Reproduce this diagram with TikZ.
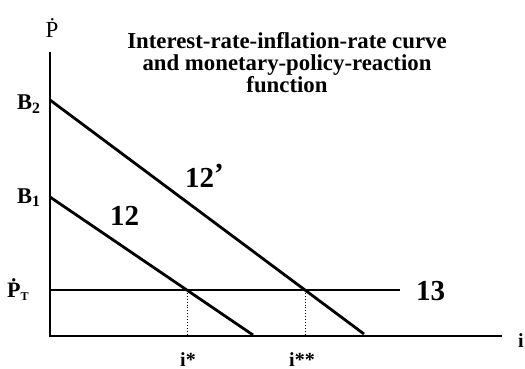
\documentclass[tikz,border=0pt]{standalone}
\usepackage{fontspec}
\setmainfont{Liberation Serif}
\begin{document}
\begin{tikzpicture}[x=1pt,y=-1pt,
  axis/.style={line width=2.4pt},
  curve/.style={line width=2.8pt},
  lbl/.style={font=\bfseries\fontsize{22.5}{22.5}\selectfont, inner sep=0pt},
  ilbl/.style={font=\bfseries\fontsize{20}{20}\selectfont, inner sep=0pt},
  big/.style={font=\bfseries\fontsize{29}{29}\selectfont, inner sep=0pt},
  ttl/.style={font=\bfseries\fontsize{22.8}{22}\selectfont, align=center, inner sep=0pt}]
\useasboundingbox (0,0) rectangle (525,369);
\coordinate (O) at (50,336);
\coordinate (Ytop) at (50,52);
\coordinate (Xend) at (502,336);
\draw[axis] (Ytop) -- (O) -- (Xend);
\coordinate (T0) at (50,290);
\coordinate (T1) at (400,290);
\draw[curve] (T0) -- (T1);
\coordinate (B2) at (50,100);
\coordinate (E2) at (364,334);
\coordinate (B1) at (50,197);
\coordinate (E1) at (253,335);
\draw[curve] (B2) -- (E2);
\draw[curve] (B1) -- (E1);
\coordinate (I1) at (187,290);
\coordinate (I1b) at (187,336);
\coordinate (I2) at (305,290);
\coordinate (I2b) at (305,336);
\draw[dotted, line width=0.9pt] (I1) -- (I1b);
\draw[dotted, line width=0.9pt] (I2) -- (I2b);
\node[font=\fontsize{23}{23}\selectfont, inner sep=0pt, anchor=base] (pdot) at (52,38) {\.{P}};
\node[ttl, anchor=north] (title) at (287,32.5) {Interest-rate-inflation-rate curve\\and monetary-policy-reaction\\function};
\node[lbl, anchor=base west] (lb2) at (17,110) {B\textsubscript{2}};
\node[lbl, anchor=base west] (lb1) at (17,203) {B\textsubscript{1}};
\node[font=\bfseries\fontsize{22}{22}\selectfont, inner sep=0pt, anchor=base west] (lpt) at (7,297) {\.{P}\raisebox{-0.3ex}{\fontsize{12}{12}\selectfont T}};
\node[big, anchor=base west] (l12p) at (185,187) {12\raisebox{0.3ex}{’}};
\node[big, anchor=base west] (l12) at (110,225) {12};
\node[big, anchor=base west] (l13) at (416,300) {13};
\node[ilbl, anchor=base] (li) at (521,347) {i};
\node[ilbl, anchor=base] (lis) at (188,366) {i*};
\node[ilbl, anchor=base] (liss) at (302,366) {i**};
\end{tikzpicture}
\end{document}
